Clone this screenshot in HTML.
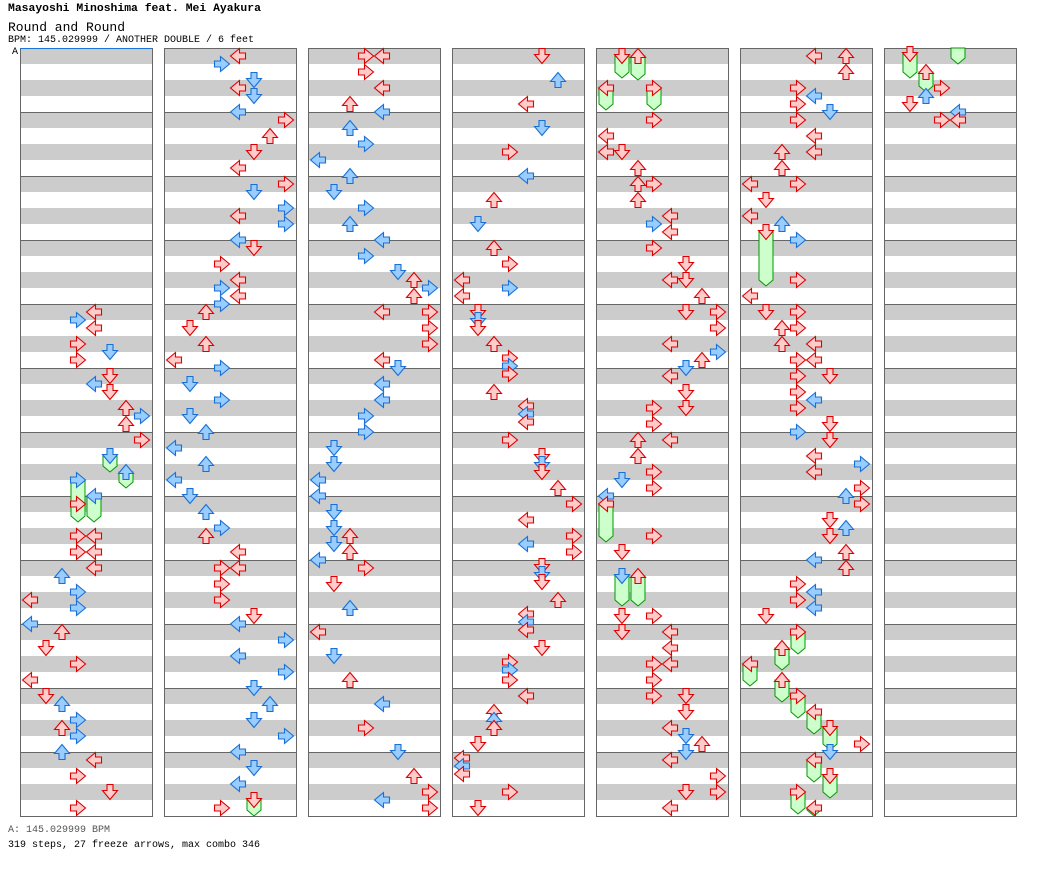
<!DOCTYPE html>
<html><head><meta charset="utf-8"><style>
body{margin:0;background:#fff;width:1040px;height:876px;overflow:hidden;position:relative;font-family:"Liberation Mono","DejaVu Sans Mono",monospace}
.t{position:absolute;white-space:nowrap}
</style></head><body>
<div class="t" style="left:8px;top:3px;font-size:11.4px;font-weight:bold">Masayoshi Minoshima feat. Mei Ayakura</div>
<div class="t" style="left:8px;top:20px;font-size:13px">Round and Round</div>
<div class="t" style="left:8px;top:35px;font-size:10px">BPM: 145.029999 / ANOTHER DOUBLE / 6 feet</div>
<div class="t" style="left:12px;top:47px;font-size:10px">A</div>
<div class="t" style="left:8px;top:825px;font-size:10px;color:#555">A: 145.029999 BPM</div>
<div class="t" style="left:8px;top:840px;font-size:10px">319 steps, 27 freeze arrows, max combo 346</div>
<svg id="s" width="1040" height="876" style="position:absolute;left:0;top:0"></svg>
<script>
var S='';
var lefts=[20,164,308,452,596,740,884];
lefts.forEach(function(L){
 for(var i=0;i<48;i++){S+='<rect x="'+L+'" y="'+(48+i*16)+'" width="132" height="16" fill="'+(i%2?'#fff':'#cccccc')+'"/>';}
 for(var m=1;m<12;m++){S+='<line x1="'+L+'" x2="'+(L+132)+'" y1="'+(48+m*64+0.5)+'" y2="'+(48+m*64+0.5)+'" stroke="#666"/>';}
 S+='<rect x="'+(L+0.5)+'" y="48.5" width="132" height="768" fill="none" stroke="#666"/>';
});
S+='<line x1="20" x2="152" y1="48.5" y2="48.5" stroke="#1a75d8"/>';
var data={
0:"94 312 r|78 320 b|94 328 r|78 344 r|110 352 b|78 360 r|110 376 r|94 384 b|110 392 r|126 408 r|142 416 b|126 424 r|142 440 r|110 456 b 472|126 472 b 488|78 480 b 522|94 496 b 522|78 504 r|78 536 r|94 536 r|78 552 r|94 552 r|94 568 r|62 576 b|78 592 b|30 600 r|78 608 b|30 624 b|62 632 r|46 648 r|78 664 r|30 680 r|46 696 r|62 704 b|78 720 b|62 728 r|78 736 b|62 752 b|94 760 r|78 776 r|110 792 r|78 808 r",
1:"238 56 r|222 64 b|254 80 b|238 88 r|254 96 b|238 112 b|286 120 r|270 136 r|254 152 r|238 168 r|286 184 r|254 192 b|286 208 b|238 216 r|286 224 b|238 240 b|254 248 r|222 264 r|238 280 r|222 288 b|238 296 r|222 304 b|206 312 r|190 328 r|206 344 r|174 360 r|222 368 b|190 384 b|222 400 b|190 416 b|206 432 b|174 448 b|206 464 b|174 480 b|190 496 b|206 512 b|222 528 b|206 536 r|238 552 r|222 568 r|238 568 r|222 584 r|222 600 r|254 616 r|238 624 b|286 640 b|238 656 b|286 672 b|254 688 b|270 704 b|254 720 b|286 736 b|238 752 b|254 768 b|238 784 b|254 800 r 816|222 808 r",
2:"366 56 r|382 56 r|366 72 r|382 88 r|350 104 r|382 112 b|350 128 b|366 144 b|318 160 b|350 176 b|334 192 b|366 208 b|350 224 b|382 240 b|366 256 b|398 272 b|414 280 r|430 288 b|414 296 r|382 312 r|430 312 r|430 328 r|430 344 r|382 360 r|398 368 b|382 384 b|382 400 b|366 416 b|366 432 b|334 448 b|334 464 b|318 480 b|318 496 b|334 512 b|334 528 b|350 536 r|334 544 b|350 552 r|318 560 b|366 568 r|334 584 r|350 608 b|318 632 r|334 656 b|350 680 r|382 704 b|366 728 r|398 752 b|414 776 r|430 792 r|382 800 b|430 808 r",
3:"542 56 r|558 80 b|526 104 r|542 128 b|510 152 r|526 176 b|494 200 r|478 224 b|494 248 r|510 264 r|462 280 r|510 288 b|462 296 r|478 312 r|478 320 b|478 328 r|494 344 r|510 358 r|510 366 b|510 374 r|494 392 r|526 406 r|526 414 b|526 422 r|510 440 r|542 456 r|542 464 b|542 472 r|558 488 r|574 504 r|526 520 r|574 536 r|526 544 b|574 552 r|542 566 r|542 574 b|542 582 r|558 600 r|526 614 r|526 622 b|526 630 r|542 648 r|510 662 r|510 670 b|510 680 r|526 696 r|494 712 r|494 720 b|494 728 r|478 744 r|462 758 r|462 766 b|462 774 r|510 792 r|478 808 r",
4:"622 56 r 78|638 56 r 80|606 88 r 110|654 88 r 110|654 120 r|606 136 r|606 152 r|622 152 r|638 168 r|638 184 r|654 184 r|638 200 r|670 216 r|654 224 b|670 232 r|654 248 r|686 264 r|670 280 r|686 280 r|702 296 r|686 312 r|718 312 r|718 328 r|670 344 r|718 352 b|702 360 r|686 368 b|670 376 r|686 392 r|686 408 r|654 408 r|654 424 r|638 440 r|670 440 r|638 456 r|654 472 r|622 480 b|654 488 r|606 496 b|606 504 r 542|654 536 r|622 552 r|622 576 b 606|638 576 r 606|622 616 r|654 616 r|622 632 r|670 632 r|670 648 r|654 664 r|670 664 r|654 680 r|654 696 r|686 696 r|686 712 r|670 728 r|686 736 b|702 744 r|686 752 b|670 760 r|718 776 r|686 792 r|718 792 r|670 808 r",
5:"814 56 r|846 56 r|846 72 r|798 88 r|814 96 b|798 104 r|830 112 b|798 120 r|814 136 r|782 152 r|814 152 r|782 168 r|750 184 r|798 184 r|766 200 r|750 216 r|782 224 b|766 232 r 286|798 240 b|798 280 r|750 296 r|766 312 r|798 312 r|782 328 r|798 328 r|782 344 r|814 344 r|798 360 r|814 360 r|830 376 r|798 376 r|798 392 r|814 400 b|798 408 r|830 424 r|798 432 b|830 440 r|814 456 r|862 464 b|814 472 r|862 488 r|846 496 b|862 504 r|830 520 r|846 528 b|830 536 r|846 552 r|814 560 b|846 568 r|798 584 r|814 592 b|798 600 r|814 608 b|766 616 r|798 632 r 654|782 648 r 670|750 664 r 686|782 680 r 702|798 696 r 718|814 712 r 734|830 728 r 750|862 744 r|830 752 b|814 760 r 782|830 776 r 798|798 792 r 814|814 808 r 822",
6:"910 54 r 78|926 72 r 92|942 88 r|926 96 b|910 104 r|958 112 b|942 120 r|958 120 r"
};
var body='';
function dirOf(x){var L=0;lefts.forEach(function(l){if(x>=l)L=l;});return Math.round((x-L-10)/16)%4;}
var rot=[90,0,180,-90];
var heads='';
for(var k in data){data[k].split('|').forEach(function(n){
 var p=n.split(' ');var x=+p[0],y=+p[1],c=p[2],e=p[3]?+p[3]:0;
 var d=dirOf(x);
 if(e){var yb=Math.min(e,816);body+='<path d="M'+(x-7)+','+(y)+' V'+(yb-6)+' L'+x+','+yb+' L'+(x+7)+','+(yb-6)+' V'+y+' Z" fill="#ccffcc" stroke="#009900"/>';}
 var f=c=='r'?'#ffcccc':'#99ccff',s=c=='r'?'#dd0000':'#1a6fd6';
 heads+='<path transform="translate('+x+','+y+') rotate('+rot[d]+')" d="M-3,-7.5 H3 V-1.5 H7.5 L0,7.5 L-7.5,-1.5 H-3 Z" fill="'+f+'" stroke="'+s+'" stroke-width="1.1" stroke-linejoin="miter"/>';
});}
body+='<path d="M951,48 V58 L958,64 L965,58 V48 Z" fill="#ccffcc" stroke="#009900"/>';
document.getElementById('s').innerHTML=S+body+heads;
</script>
</body></html>
